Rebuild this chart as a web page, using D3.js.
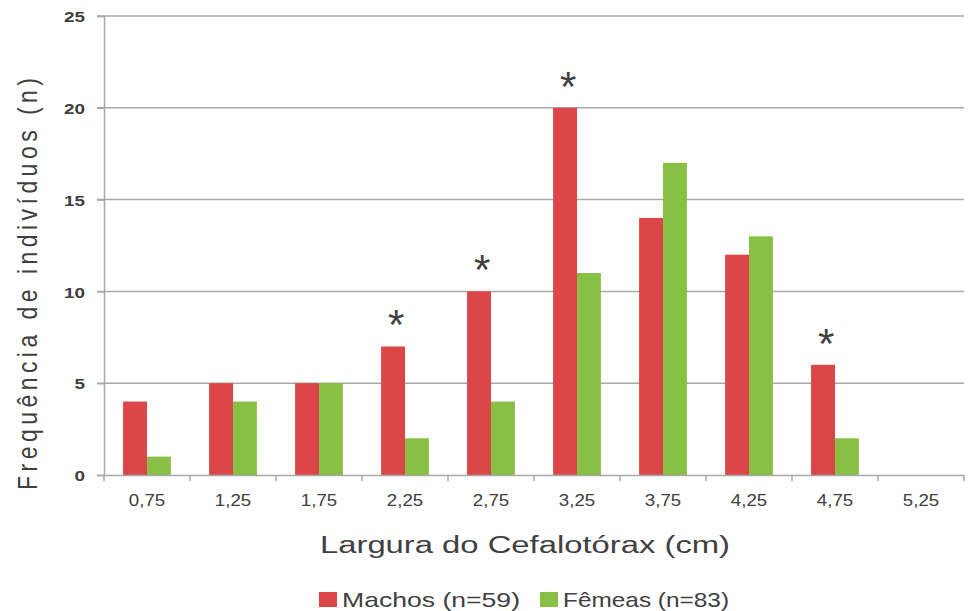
<!DOCTYPE html>
<html><head><meta charset="utf-8">
<script src="https://cdn.jsdelivr.net/npm/d3@7"></script>
<style>body{margin:0;background:#fff}svg{display:block}text{font-family:"Liberation Sans",Arial,sans-serif}</style>
</head><body><svg id="c" width="970" height="611"></svg>
<script>
const categories = ["0,75","1,25","1,75","2,25","2,75","3,25","3,75","4,25","4,75","5,25"];
const machos = [4,5,5,7,10,20,14,12,6,0];
const femeas = [1,4,5,2,4,11,17,13,2,0];
const significant = [false,false,false,true,true,true,false,false,true,false];
const yTicks = [0,5,10,15,20,25];
const seriesNames = ["Machos (n=59)","Fêmeas (n=83)"];
const colors = ["#dc4646","#88bf45"];
const FONT = "'Liberation Sans',Arial,sans-serif";

function stretch(sel, k) {
  sel.each(function(){
    const w = this.getComputedTextLength();
    d3.select(this).attr("textLength", w*k).attr("lengthAdjust","spacingAndGlyphs");
  });
}

const svg = d3.select("#c");
const m = {l:104, r:964, t:16, b:475};
const x = d3.scaleBand().domain(categories).range([m.l, m.r]).paddingInner(0).paddingOuter(0);
const y = d3.scaleLinear().domain([0,25]).range([m.b, m.t]);
const inner = d3.scaleBand().domain([0,1]).range([0, x.bandwidth()]).paddingInner(0).paddingOuter(0.8);

// gridlines
svg.append("g").selectAll("line").data(yTicks.filter(d=>d>0)).join("line")
  .attr("x1", m.l-7).attr("x2", m.r).attr("y1", d=>y(d)).attr("y2", d=>y(d))
  .attr("stroke","#a8a8a8").attr("stroke-width",1.5);

// y axis
const ya = svg.append("g").attr("transform",`translate(${m.l},0)`)
  .call(d3.axisLeft(y).tickValues(yTicks).tickSize(7).tickPadding(12));
ya.select(".domain").attr("stroke","#a8a8a8").attr("stroke-width",1.5);
ya.selectAll(".tick line").attr("stroke","#a8a8a8").attr("stroke-width",1.5);
ya.selectAll("text").attr("font-size",14).attr("fill","#404040").attr("font-weight","bold")
  .attr("font-family",FONT).attr("dy","0.4em");
stretch(ya.selectAll("text"), 1.35);

// bars
const groups = svg.append("g").selectAll("g").data(categories).join("g")
  .attr("transform", d=>`translate(${x(d)},0)`);
groups.append("rect").attr("x", inner(0)).attr("width", inner.bandwidth())
  .attr("y",(d,i)=>y(machos[i])).attr("height",(d,i)=>y(0)-y(machos[i])).attr("fill",colors[0]);
groups.append("rect").attr("x", inner(1)).attr("width", inner.bandwidth())
  .attr("y",(d,i)=>y(femeas[i])).attr("height",(d,i)=>y(0)-y(femeas[i])).attr("fill",colors[1]);

// x axis
const xa = svg.append("g").attr("transform",`translate(0,${m.b})`)
  .call(d3.axisBottom(x).tickSize(0).tickPadding(19));
xa.select(".domain").attr("stroke","#a8a8a8").attr("stroke-width",1.5);
xa.selectAll("text").attr("font-size",17).attr("fill","#404040").attr("font-family",FONT);
stretch(xa.selectAll("text"), 1.1);
// boundary ticks
const bounds = categories.map(c=>x(c)).concat([m.r]);
svg.append("g").selectAll("line").data(bounds).join("line")
  .attr("x1",d=>d).attr("x2",d=>d).attr("y1",m.b).attr("y2",m.b+6)
  .attr("stroke","#a8a8a8").attr("stroke-width",1.5);

// asterisks
svg.append("g").selectAll("text").data(categories.filter((c,i)=>significant[i])).join("text")
  .attr("x", d=>x(d)+inner(0)+inner.bandwidth()/2+3)
  .attr("y", d=>y(machos[categories.indexOf(d)])-7)
  .attr("text-anchor","middle").attr("font-size",42).attr("fill","#404040").text("*");

// axis titles
const xt = svg.append("text").attr("x",525).attr("y",553).attr("text-anchor","middle")
  .attr("font-size",23).attr("fill","#404040")
  .text("Largura do Cefalotórax (cm)");
xt.attr("textLength",410).attr("lengthAdjust","spacingAndGlyphs");
const yt = svg.append("text").attr("transform","translate(37,284) rotate(-90) scale(1,1.2)").attr("text-anchor","middle")
  .attr("font-size",23).attr("fill","#404040")
  .text("Frequência de indivíduos (n)");
yt.attr("textLength",412).attr("lengthAdjust","spacing");

// legend
const lx = [319, 540];
const lw = [178, 166];
const lg = svg.append("g").selectAll("g").data(seriesNames).join("g")
  .attr("transform",(d,i)=>`translate(${lx[i]},592)`);
lg.append("rect").attr("width",18).attr("height",15).attr("y",0).attr("fill",(d,i)=>colors[i]);
lg.append("text").attr("x",23).attr("y",15).attr("font-size",21).attr("fill","#404040").text(d=>d)
  .attr("textLength",(d,i)=>lw[i]).attr("lengthAdjust","spacingAndGlyphs");
</script></body></html>
